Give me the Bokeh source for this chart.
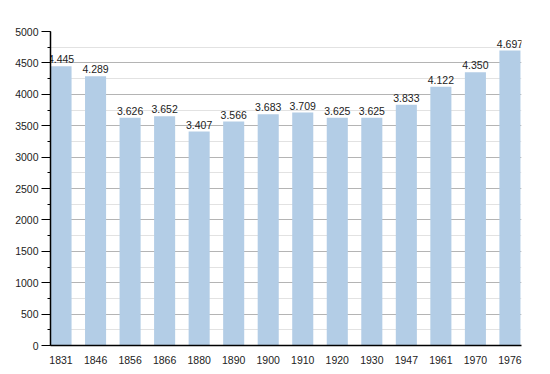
from bokeh.plotting import figure
from bokeh.models import ColumnDataSource, Range1d, FixedTicker
from bokeh.embed import file_html
from bokeh.resources import INLINE
from bokeh.core.properties import value

years = ["1831", "1846", "1856", "1866", "1880", "1890", "1900", "1910", "1920", "1930", "1947", "1961", "1970", "1976"]
population = [4445, 4289, 3626, 3652, 3407, 3566, 3683, 3709, 3625, 3625, 3833, 4122, 4350, 4697]
y_ticks = [0, 500, 1000, 1500, 2000, 2500, 3000, 3500, 4000, 4500, 5000]

idx = list(range(len(years)))
labels = ["{:,}".format(v).replace(",", ".") for v in population]
src = ColumnDataSource(dict(x=idx, y=population, label=labels))

p = figure(width=534, height=366, output_backend="svg", toolbar_location=None,
           x_range=Range1d(-0.305, len(years) - 1 + 0.335), y_range=Range1d(0, 5000),
           min_border_left=50, min_border_right=13, min_border_top=31, min_border_bottom=21)
p.outline_line_color = None
p.background_fill_color = "white"

p.vbar(x="x", top="y", width=0.61, source=src, fill_color="#b3cde6", line_color=None)
p.text(x="x", y="y", text="label", source=src, text_align="center", text_baseline="bottom",
       y_offset=-3, text_font=value("Liberation Sans"), text_font_size="10.5px", text_color="#222222")

p.xaxis.ticker = FixedTicker(ticks=idx)
p.xaxis.major_label_overrides = {i: y for i, y in enumerate(years)}
p.xaxis.major_tick_line_color = None
p.xaxis.minor_tick_line_color = None
p.xaxis.axis_line_color = "black"
p.xaxis.axis_line_width = 1.5
p.xaxis.major_label_standoff = 4

p.yaxis.ticker = FixedTicker(ticks=y_ticks, minor_ticks=list(range(0, 5001, 250)))
p.yaxis.axis_line_color = "black"
p.yaxis.axis_line_width = 1.5
p.yaxis.major_tick_in = 0
p.yaxis.major_tick_out = 9
p.yaxis.minor_tick_in = 0
p.yaxis.minor_tick_out = 3
p.yaxis.major_tick_line_color = "black"
p.yaxis.minor_tick_line_color = "black"
p.yaxis.major_label_standoff = 3

for ax in (p.xaxis, p.yaxis):
    ax.major_label_text_font = "Liberation Sans"
    ax.major_label_text_font_size = "10.5px"
    ax.major_label_text_color = "#222222"

p.xgrid.grid_line_color = None
p.ygrid.grid_line_color = "#b4b4b4"
p.ygrid.minor_grid_line_color = "#e2e2e2"
p.ygrid.level = "underlay"

open("out.html", "w").write(file_html(p, INLINE))
